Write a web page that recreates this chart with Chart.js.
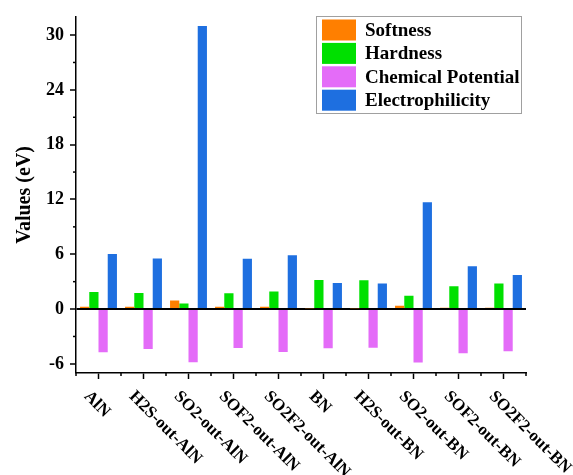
<!DOCTYPE html>
<html>
<head>
<meta charset="utf-8">
<script src="https://cdn.jsdelivr.net/npm/chart.js@4/dist/chart.umd.min.js"></script>
<style>
  html, body { margin: 0; padding: 0; background: #fff; }
  canvas { display: block; }
</style>
</head>
<body>
<canvas id="grafico" width="573" height="475"></canvas>
<script>
// datos
const categorias = ["AlN", "H2S-out-AlN", "SO2-out-AlN", "SOF2-out-AlN", "SO2F2-out-AlN",
  "BN", "H2S-out-BN", "SO2-out-BN", "SOF2-out-BN", "SO2F2-out-BN"];
const softness = [0.25, 0.25, 0.95, 0.25, 0.25, 0.1, 0.1, 0.35, 0.15, 0.15];
const hardness = [1.88, 1.77, 0.6, 1.74, 1.92, 3.18, 3.15, 1.47, 2.5, 2.8];
const chemPot = [-4.74, -4.38, -5.82, -4.27, -4.7, -4.3, -4.23, -5.84, -4.83, -4.61];
const electro = [6.04, 5.53, 31.0, 5.5, 5.9, 2.86, 2.8, 11.7, 4.7, 3.74];
const nombres = ["Softness", "Hardness", "Chemical Potential", "Electrophilicity"];
const colores = ["#ff7f00", "#00e000", "#e46cf8", "#1e6fe0"];

const serif = "'Liberation Serif', 'Times New Roman', serif";

// ticks menores, etiquetas giradas y leyenda
const extras = {
  id: "extras",
  afterDraw(chart) {
    const ctx = chart.ctx;
    const x = chart.scales.x, y = chart.scales.y;
    const area = chart.chartArea;
    ctx.save();
    ctx.strokeStyle = "#000";
    ctx.lineWidth = 1.5;
    // menores eje y
    for (let v = -3; v <= 30; v += 6) {
      const py = y.getPixelForValue(v);
      ctx.beginPath();
      ctx.moveTo(area.left - 3, py);
      ctx.lineTo(area.left, py);
      ctx.stroke();
    }
    // menores eje x (entre categorias)
    for (let i = 0; i <= categorias.length; i++) {
      const px = x.getPixelForValue(i - 0.5);
      ctx.beginPath();
      ctx.moveTo(px, area.bottom);
      ctx.lineTo(px, area.bottom + 3);
      ctx.stroke();
    }
    // etiquetas a 45 grados
    ctx.fillStyle = "#000";
    ctx.font = "bold 17px " + serif;
    ctx.textAlign = "left";
    ctx.textBaseline = "top";
    categorias.forEach((c, i) => {
      const px = x.getPixelForValue(i);
      ctx.save();
      ctx.translate(px - 6, area.bottom + 15);
      ctx.rotate(Math.PI / 4);
      ctx.fillText(c, 0, 0);
      ctx.restore();
    });
    // leyenda
    const lx = 316, ly = 16, lw = 205, lh = 97;
    ctx.fillStyle = "#fff";
    ctx.fillRect(lx, ly, lw, lh);
    ctx.strokeStyle = "#a0a0a0";
    ctx.lineWidth = 1;
    ctx.strokeRect(lx + 0.5, ly + 0.5, lw, lh);
    ctx.font = "bold 19px " + serif;
    ctx.textBaseline = "middle";
    chart.data.datasets.forEach((ds, i) => {
      const cy = 30 + i * 23.4;
      ctx.fillStyle = ds.backgroundColor;
      ctx.fillRect(322, cy - 10.5, 34, 21);
      ctx.fillStyle = "#000";
      ctx.fillText(ds.label, 365, cy + 1);
    });
    ctx.restore();
  }
};

const ctx = document.getElementById("grafico").getContext("2d");
new Chart(ctx, {
  type: "bar",
  data: {
    labels: categorias,
    datasets: [softness, hardness, chemPot, electro].map((d, i) => ({
      label: nombres[i],
      data: d,
      backgroundColor: colores[i],
      borderWidth: 0,
      barPercentage: 1,
      categoryPercentage: 0.82
    }))
  },
  options: {
    responsive: false,
    animation: false,
    layout: { padding: { top: 10, right: 47, bottom: 96, left: 4 } },
    plugins: { legend: { display: false }, tooltip: { enabled: false } },
    scales: {
      x: {
        grid: { offset: false, drawOnChartArea: false, tickLength: 6, tickColor: "#000", tickWidth: 1.5 },
        border: { color: "#000", width: 1.5 },
        ticks: { display: false }
      },
      y: {
        min: -7,
        max: 32,
        afterFit: s => { s.width = 72; },
        grid: {
          color: c => c.tick && c.tick.value === 0 ? "#000" : "rgba(0,0,0,0)",
          lineWidth: c => c.tick && c.tick.value === 0 ? 2 : 0,
          tickLength: 6, tickColor: "#000", tickWidth: 1.5
        },
        border: { color: "#000", width: 1.5 },
        ticks: {
          stepSize: 6,
          includeBounds: false,
          padding: 6,
          color: "#000",
          font: { family: serif, size: 18, weight: "bold" }
        },
        title: {
          display: true,
          text: "Values (eV)",
          color: "#000",
          padding: { top: 9, bottom: 0 },
          font: { family: serif, size: 20, weight: "bold" }
        }
      }
    }
  },
  plugins: [extras]
});
</script>
</body>
</html>
